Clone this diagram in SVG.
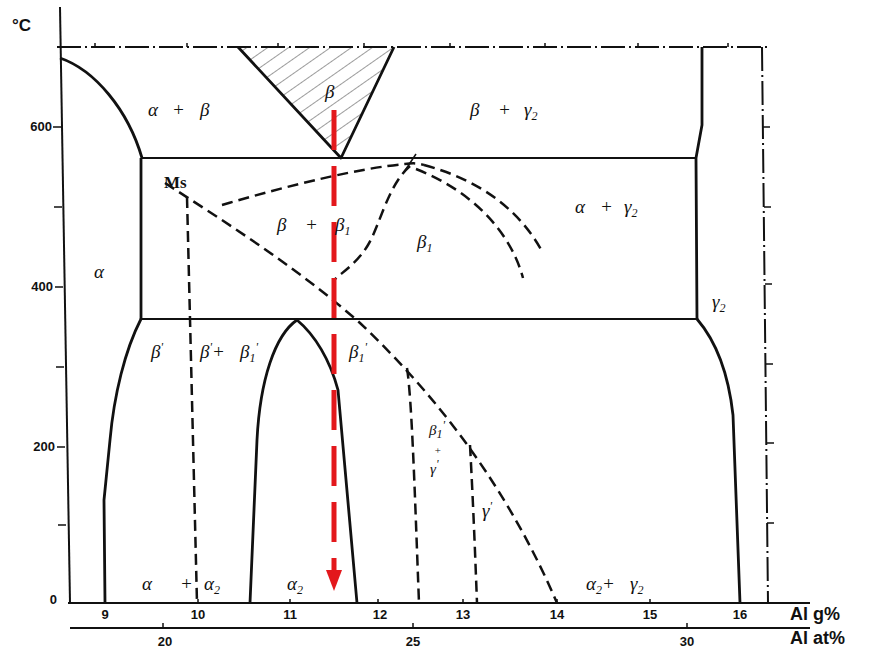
<svg xmlns="http://www.w3.org/2000/svg" width="870" height="649" viewBox="0 0 870 649">
<style>
.ax{stroke:#111;stroke-width:2;fill:none}
.bd{stroke:#111;stroke-width:2.8;fill:none;stroke-linejoin:round}
.hl{stroke:#111;stroke-width:2;fill:none}
.dd{stroke:#111;stroke-width:2.5;fill:none;stroke-dasharray:11 6}
.dc{stroke:#111;stroke-width:2;fill:none;stroke-dasharray:24 4 2 4}
.tk{stroke:#111;stroke-width:1.5;fill:none}
.lb{font-family:"Liberation Serif","DejaVu Serif",serif;font-style:italic;font-size:19px;fill:#111}
.sb{font-size:12px}
.sm{font-size:15px}
.pl{font-size:11px}
.num{font-family:"Liberation Sans","DejaVu Sans",sans-serif;font-weight:bold;font-size:13px;fill:#111}
.axl{font-family:"Liberation Sans","DejaVu Sans",sans-serif;font-weight:bold;font-size:18px;fill:#111}
</style>
<defs>
<pattern id="hatch" width="12" height="12" patternUnits="userSpaceOnUse" patternTransform="rotate(-35)">
<line x1="0" y1="0" x2="12" y2="0" stroke="#222" stroke-width="0.9"/>
</pattern>
</defs>
<rect width="870" height="649" fill="#fff"/>

<g id="axes">
<line class="ax" x1="60" y1="7" x2="70" y2="603"/>
<line class="ax" x1="68" y1="603" x2="810" y2="603"/>
<line class="ax" x1="70" y1="628" x2="810" y2="628"/>
<line class="dc" x1="57" y1="47" x2="770" y2="47"/>
<line class="dc" x1="762" y1="47" x2="768" y2="603"/>
<path class="tk" d="M53,127H61 M54,207H62 M55,287H63 M56,367H64 M57,447H65 M58,525H66"/>
<path class="tk" d="M95,47V43 M187,47V43 M278,47V43 M364,47V43 M450,47V43 M545,47V43 M638,47V43 M728,47V43"/>
<path class="tk" d="M763,127H770 M764,207H771 M765,284H772 M766,364H773 M767,443H774 M767,523H774"/>
<path class="tk" d="M105,603V599 M198,603V599 M290,603V599 M378,603V599 M463,603V599 M557,603V599 M650,603V599 M740,603V599"/>
<path class="tk" d="M163,628V623 M413,628V623 M687,628V623"/>
<text class="num" x="12" y="31" style="font-size:17px">°C</text>
<text class="num" x="52" y="131" text-anchor="end">600</text>
<text class="num" x="53" y="291" text-anchor="end">400</text>
<text class="num" x="55" y="451" text-anchor="end">200</text>
<text class="num" x="57" y="604" text-anchor="end">0</text>
<g class="num" text-anchor="middle">
<text x="105" y="619">9</text>
<text x="198" y="619">10</text>
<text x="290" y="619">11</text>
<text x="380" y="619">12</text>
<text x="463" y="619">13</text>
<text x="557" y="619">14</text>
<text x="650" y="619">15</text>
<text x="740" y="619">16</text>
<text x="165" y="646">20</text>
<text x="413" y="646">25</text>
<text x="687" y="646">30</text>
</g>
<text class="axl" x="790" y="620">Al g%</text>
<text class="axl" x="790" y="644">Al at%</text>
</g>

<g id="boundaries">
<polygon points="238,47 394,47 341,158" fill="url(#hatch)"/>
<path class="bd" d="M238,47 L341,158 L394,47"/>
<path class="bd" d="M60,58 C95,70 128,110 142,158"/>
<line class="hl" x1="141" y1="158" x2="697" y2="158"/>
<line class="bd" x1="141" y1="158" x2="141" y2="319"/>
<line class="hl" x1="141" y1="319" x2="698" y2="319"/>
<path class="bd" d="M702,47 L702,125 L696,158 L697,319"/>
<path class="bd" d="M697,319 C715,340 728,370 733,415 L740,603"/>
<path class="bd" d="M141,319 C125,350 114,395 110,440 L104,500 L105,603"/>
<path class="bd" d="M250,603 L257,440 C260,380 275,335 297,320 C315,335 330,360 338,390 L357,603"/>
</g>

<g id="dashed">
<path class="dd" d="M165,183 C230,225 300,270 360,323 C420,380 500,470 557,603"/>
<path class="dd" d="M187,197 L197,603"/>
<path class="dd" d="M222,205 C290,185 360,168 405,164 C412,163 418,163 424,165"/>
<path class="dd" d="M424,165 C480,180 520,210 543,253"/>
<path class="dd" d="M416,169 C470,190 510,230 523,278"/>
<path class="dd" d="M410,166 C388,185 380,225 368,245 C358,262 345,270 333,281"/>
<path class="dd" d="M407,368 C412,400 415,500 419,603"/>
<path class="dd" d="M470,445 C473,500 475,550 477,603"/>
<line class="tk" x1="404" y1="172" x2="416" y2="154"/>
</g>

<g id="red-arrow">
<line x1="334" y1="110" x2="334" y2="572" stroke="#e3181c" stroke-width="5" stroke-dasharray="40 16"/>
<polygon points="326,570 342,570 334,591" fill="#e3181c"/>
</g>

<g id="labels" class="lb">
<text x="148" y="116">α<tspan x="172">+</tspan><tspan x="200">β</tspan></text>
<text x="325" y="98">β</text>
<text x="470" y="116">β<tspan x="498">+</tspan><tspan x="524">γ</tspan><tspan class="sb" dy="4">2</tspan></text>
<text x="164" y="188" style="font-style:normal;font-size:17px;font-weight:bold">Ms</text>
<text x="277" y="231">β<tspan x="305">+</tspan><tspan x="335">β</tspan><tspan class="sb" dy="4">1</tspan></text>
<text x="417" y="248">β<tspan class="sb" dy="4">1</tspan></text>
<text x="575" y="213">α<tspan x="600">+</tspan><tspan x="624">γ</tspan><tspan class="sb" dy="4">2</tspan></text>
<text x="94" y="278">α</text>
<text x="712" y="308">γ<tspan class="sb" dy="4">2</tspan></text>
<text x="151" y="358">β<tspan class="sb" dy="-7">'</tspan></text>
<text x="200" y="358">β<tspan class="sb" dy="-7">'</tspan><tspan dy="7">+</tspan><tspan x="240">β</tspan><tspan class="sb" dy="4">1</tspan><tspan class="sb" dy="-11">'</tspan></text>
<text x="349" y="358">β<tspan class="sb" dy="4">1</tspan><tspan class="sb" dy="-11">'</tspan></text>
<text class="sm" x="429" y="435">β<tspan class="sb" dy="3">1</tspan><tspan class="sb" dy="-9">'</tspan></text>
<text class="pl" x="434" y="454">+</text>
<text class="sm" x="430" y="474">γ<tspan class="sb" dy="-6">'</tspan></text>
<text x="482" y="517">γ<tspan class="sb" dy="-7">'</tspan></text>
<text x="142" y="590">α<tspan x="180">+</tspan><tspan x="204">α</tspan><tspan class="sb" dy="4">2</tspan></text>
<text x="287" y="590">α<tspan class="sb" dy="4">2</tspan></text>
<text x="586" y="590">α<tspan class="sb" dy="4">2</tspan><tspan dy="-4">+</tspan><tspan x="630">γ</tspan><tspan class="sb" dy="4">2</tspan></text>
</g>
</svg>
